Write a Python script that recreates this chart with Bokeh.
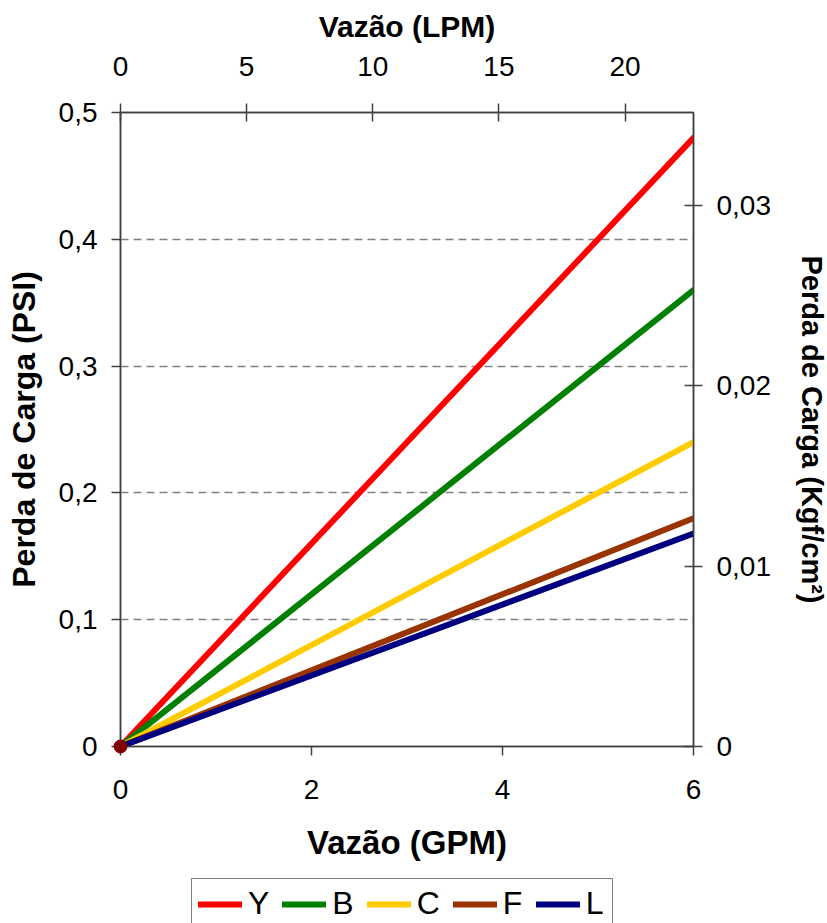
from bokeh.plotting import figure
from bokeh.layouts import column
from bokeh.models import (Range1d, LinearAxis, FixedTicker, CustomJSTickFormatter,
                          Legend, LegendItem)
from bokeh.embed import file_html
from bokeh.resources import INLINE

# ---- data ----
gpm = [0, 6]
series_names = ["Y", "B", "C", "F", "L"]
series_colors = ["#FF0000", "#008000", "#FFCC00", "#993300", "#000080"]
psi_Y = [0, 0.48]
psi_B = [0, 0.36]
psi_C = [0, 0.24]
psi_F = [0, 0.18]
psi_L = [0, 0.168]
origin_x = [0]
origin_y = [0]

bottom_ticks = [0, 2, 4, 6]
left_ticks = [0, 0.1, 0.2, 0.3, 0.4, 0.5]
top_ticks = [0, 5, 10, 15, 20]
right_ticks = [0, 0.01, 0.02, 0.03]
grid_ticks = [0.1, 0.2, 0.3, 0.4]

GPM_TO_LPM = 3.785411784
PSI_TO_KGF = 0.0703070

FONT = "Liberation Sans"
AXIS_COLOR = "#404040"

p = figure(frame_width=573, frame_height=634, output_backend="svg", toolbar_location=None,
           x_range=Range1d(0, 6), y_range=Range1d(0, 0.5),
           min_border_left=120, min_border_right=134,
           min_border_top=112, min_border_bottom=130)
p.extra_x_ranges = {"lpm": Range1d(0, 6 * GPM_TO_LPM)}
p.extra_y_ranges = {"kgf": Range1d(0, 0.5 * PSI_TO_KGF)}

p.outline_line_color = AXIS_COLOR
p.outline_line_width = 1.5
p.background_fill_color = "white"
p.border_fill_color = "white"

p.xgrid.visible = False
p.ygrid.ticker = FixedTicker(ticks=grid_ticks)
p.ygrid.grid_line_color = "#808080"
p.ygrid.grid_line_dash = "8 5"
p.ygrid.grid_line_width = 1.5

def fmt(decimals):
    return CustomJSTickFormatter(code=f"return tick == 0 ? '0' : tick.toFixed({decimals}).replace('.', ',');")

def style_axis(ax, label, ticks, formatter, tin, tout, standoff, lsize, lstandoff):
    ax.axis_label = label
    ax.ticker = FixedTicker(ticks=ticks)
    ax.formatter = formatter
    ax.minor_tick_line_color = None
    ax.major_tick_in = tin
    ax.major_tick_out = tout
    ax.major_tick_line_color = AXIS_COLOR
    ax.major_tick_line_width = 1.5
    ax.axis_line_color = AXIS_COLOR
    ax.axis_line_width = 1.5
    ax.major_label_text_font = FONT
    ax.major_label_text_font_size = "28px"
    ax.major_label_text_color = "black"
    ax.major_label_standoff = standoff
    ax.axis_label_text_font = FONT
    ax.axis_label_text_font_size = lsize
    ax.axis_label_text_font_style = "bold"
    ax.axis_label_text_color = "black"
    ax.axis_label_standoff = lstandoff

style_axis(p.xaxis[0], "Vazão (GPM)", bottom_ticks, fmt(0), 0, 9, 24, "33px", 22)
style_axis(p.yaxis[0], "Perda de Carga (PSI)", left_ticks, fmt(1), 0, 9, 14, "32px", 14)

top_axis = LinearAxis(x_range_name="lpm")
style_axis(top_axis, "Vazão (LPM)", top_ticks, fmt(0), 9, 9, 28, "30px", 11)
p.add_layout(top_axis, "above")

right_axis = LinearAxis(y_range_name="kgf")
style_axis(right_axis, "Perda de Carga (Kgf/cm²)", right_ticks, fmt(2), 9, 9, 14, "29px", 22)
p.add_layout(right_axis, "right")

series = [psi_Y, psi_B, psi_C, psi_F, psi_L]
for color, vals in zip(series_colors, series):
    p.line(gpm, vals, line_color=color, line_width=6, line_cap="round")

p.scatter(origin_x, origin_y, size=13, color="#800000", level="overlay")

# ---- legend strip (separate figure under the chart, frame aligned with the chart) ----
p2 = figure(width=827, height=47, output_backend="svg", toolbar_location=None,
            x_range=Range1d(0, 6), y_range=Range1d(100, 101),
            x_axis_type=None, y_axis_type=None, min_border=0)
p2.grid.visible = False
p2.outline_line_color = None
p2.background_fill_color = "white"
p2.border_fill_color = "white"

items = []
for name, color, vals in zip(series_names, series_colors, series):
    # same series drawn outside the strip's visible range: only its legend glyph shows
    proxy = p2.line(gpm, vals, line_color=color, line_width=6, line_cap="round")
    items.append(LegendItem(label=name, renderers=[proxy]))

legend = Legend(items=items, orientation="horizontal", location=(71, -6),
                label_text_font=FONT, label_text_font_size="32px",
                label_text_color="black",
                glyph_width=44, glyph_height=36, label_standoff=6, spacing=13,
                padding=6, margin=0,
                border_line_color="black", border_line_width=1.2,
                background_fill_color="white")
p2.add_layout(legend, "center")

layout = column(p, p2, spacing=0)
open("out.html", "w").write(file_html(layout, INLINE))
